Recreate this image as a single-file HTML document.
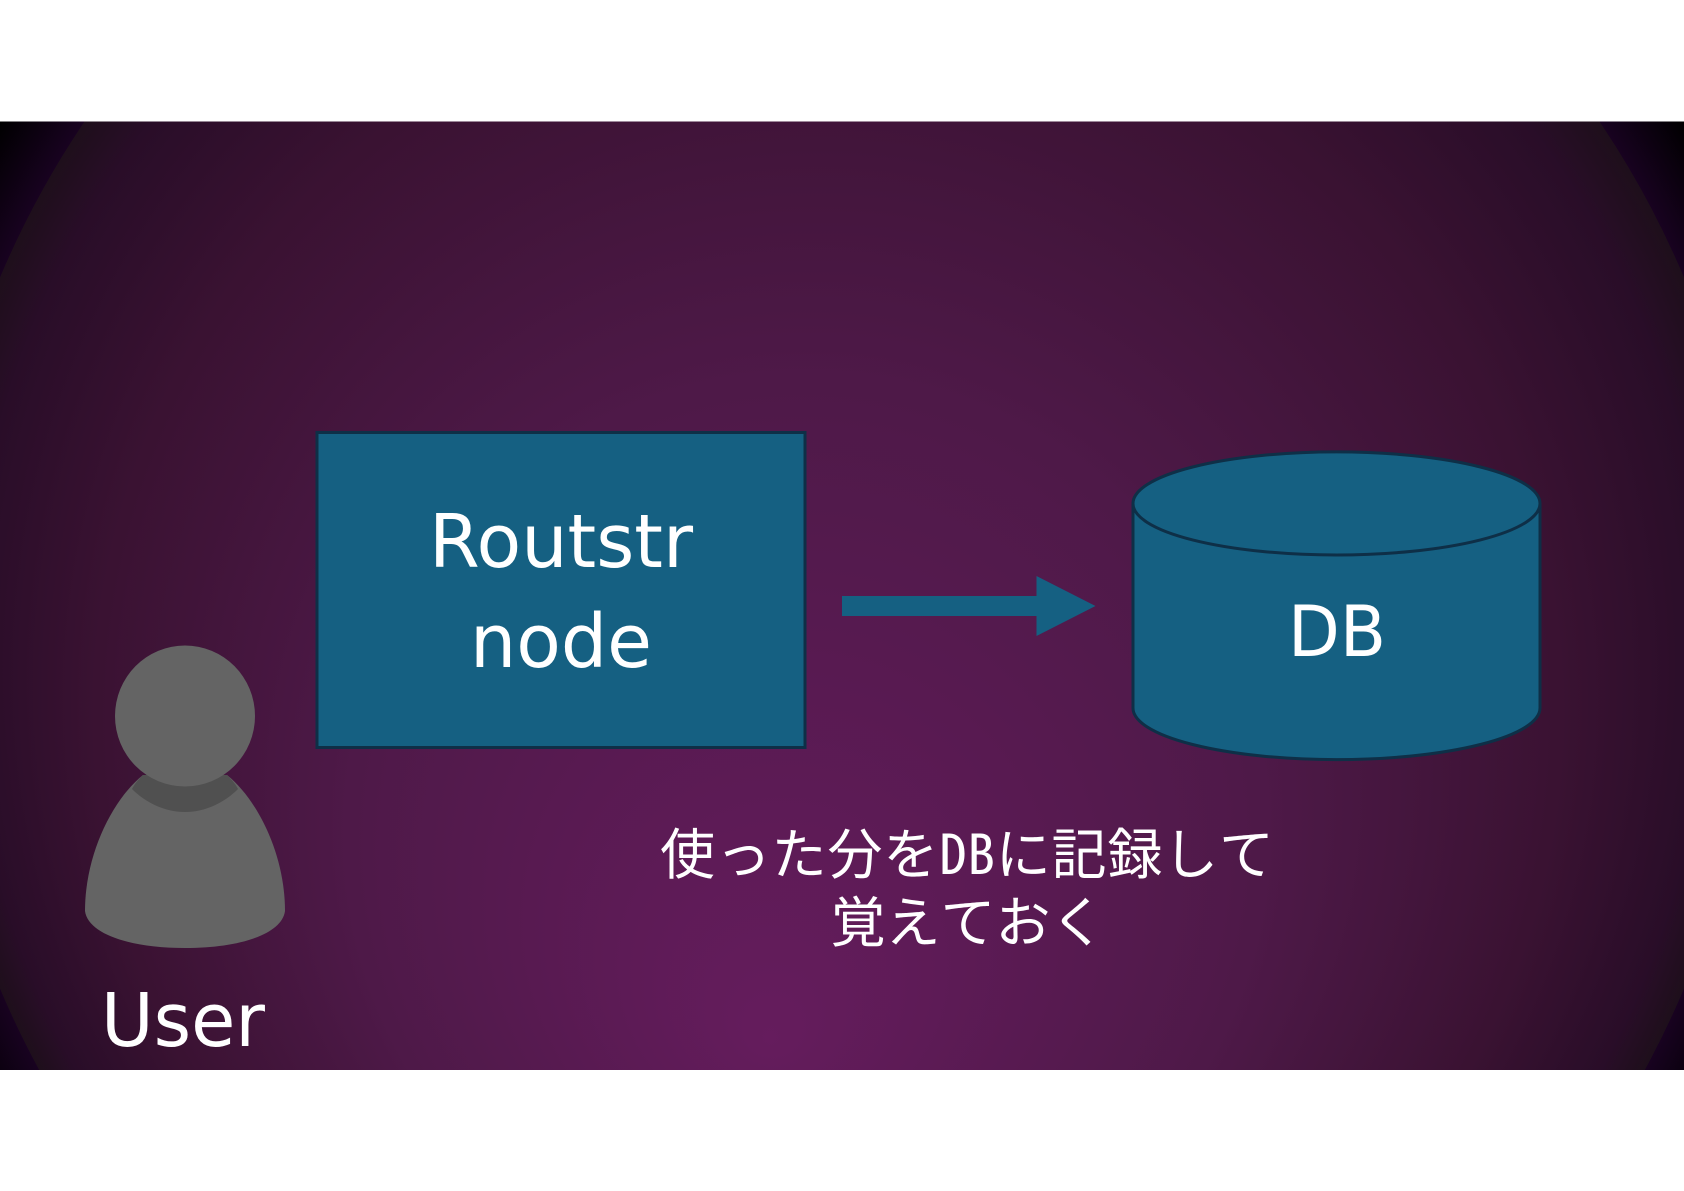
<!DOCTYPE html>
<html><head><meta charset="utf-8"><style>
html,body{margin:0;padding:0;background:#fff;width:1684px;height:1191px;overflow:hidden}
svg{display:block}
</style></head><body>
<svg width="1684" height="1191" viewBox="0 0 1684 1191" xmlns="http://www.w3.org/2000/svg">
<defs>
<radialGradient id="outer" gradientUnits="userSpaceOnUse" cx="842" cy="633" r="985">
<stop offset="0.928" stop-color="#180220"/>
<stop offset="1" stop-color="#000"/>
</radialGradient>
<radialGradient id="bg" gradientUnits="userSpaceOnUse" cx="842" cy="633" r="914" fx="770" fy="1040">
<stop offset="0" stop-color="#651c5d"/>
<stop offset="0.5" stop-color="#4e1948"/>
<stop offset="0.8" stop-color="#3a1232"/>
<stop offset="0.95" stop-color="#290d28"/>
<stop offset="1" stop-color="#1e0f1b"/>
</radialGradient>
</defs>
<rect x="0" y="121.5" width="1684" height="948.5" fill="url(#outer)"/>
<path d="M84.500 121.500H1599.500A914 914 0 0 1 1684 277.400V988.600A914 914 0 0 1 1644.800 1070H39.200A914 914 0 0 1 0 988.600V277.400A914 914 0 0 1 84.500 121.500Z" fill="url(#bg)"/>
<rect x="317" y="432.5" width="488" height="315" fill="#156082" stroke="#0e2f47" stroke-width="3"/>
<text x="561" y="567" font-family="'WenQuanYi Zen Hei','DejaVu Sans',sans-serif" font-size="74" fill="#fff" text-anchor="middle" textLength="264" lengthAdjust="spacingAndGlyphs">Routstr</text>
<text x="561" y="667" font-family="'WenQuanYi Zen Hei','DejaVu Sans',sans-serif" font-size="74" fill="#fff" text-anchor="middle" textLength="182" lengthAdjust="spacingAndGlyphs">node</text>
<path d="M842 596H1036.500V576L1095.500 606L1036.500 636V616H842Z" fill="#156082"/>
<path d="M1133 503.500V708A203 51.500 0 0 0 1540 708V503.500A203 51.500 0 0 0 1133 503.500Z" fill="#156082" stroke="#0e2f47" stroke-width="3"/>
<path d="M1133 503.500A203.500 51.500 0 0 0 1540 503.500" fill="none" stroke="#0e2f47" stroke-width="3"/>
<text x="1337" y="656" font-family="'WenQuanYi Zen Hei','DejaVu Sans',sans-serif" font-size="70" fill="#fff" text-anchor="middle" textLength="98" lengthAdjust="spacingAndGlyphs">DB</text>
<path d="M143 775C112 800 85 855 85 911C88 934 130 948 185 948C240 948 282 934 285 911C285 855 258 800 227 775Z" fill="#646464"/>
<path d="M132 789C146 803 165 812 185 812C205 812 224 803 238 789C235 783 231 779 227 775L143 775C139 779 135 783 132 789Z" fill="#505050"/>
<ellipse cx="185" cy="716" rx="70" ry="70.500" fill="#646464"/>
<text x="183" y="1046" font-family="'WenQuanYi Zen Hei','DejaVu Sans',sans-serif" font-size="74" fill="#fff" text-anchor="middle" textLength="164" lengthAdjust="spacingAndGlyphs">User</text>
<text x="967" y="874" font-family="'Noto Sans Mono CJK JP','Noto Sans CJK JP',sans-serif" font-weight="300" font-size="55" fill="#fff" text-anchor="middle" textLength="614" lengthAdjust="spacing">使った分をDBに記録して</text>
<text x="968" y="942" font-family="'Noto Sans Mono CJK JP','Noto Sans CJK JP',sans-serif" font-weight="300" font-size="55" fill="#fff" text-anchor="middle">覚えておく</text>
</svg>
</body></html>
